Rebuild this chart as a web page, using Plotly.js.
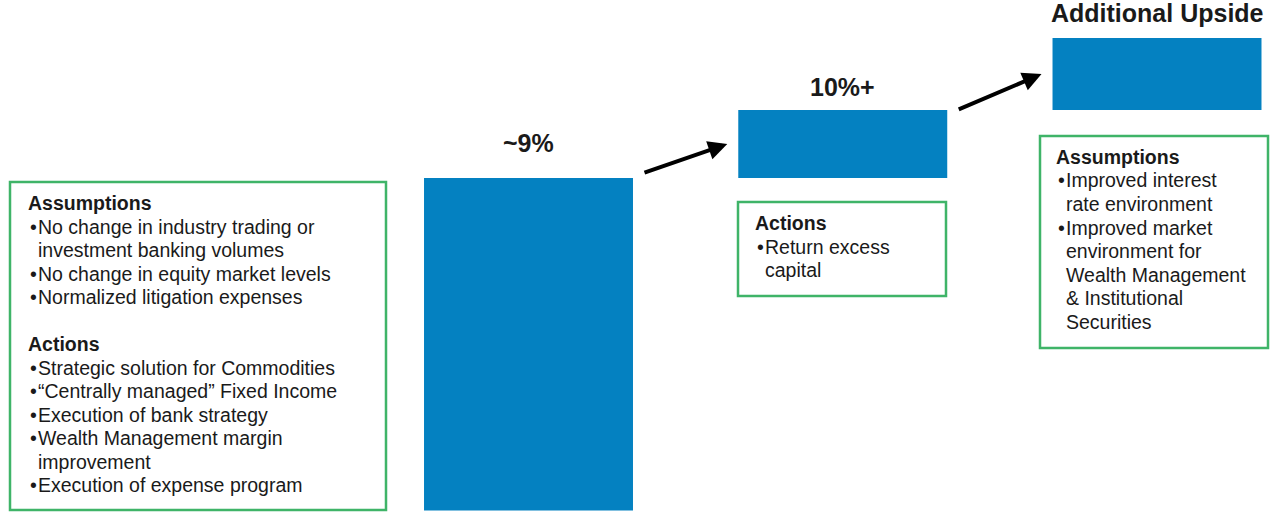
<!DOCTYPE html>
<html>
<head>
<meta charset="utf-8">
<script src="https://cdn.plot.ly/plotly-3.0.1.min.js"></script>
<style>html,body{margin:0;padding:0;background:#fff;}#chart{width:1274px;height:519px;}</style>
</head>
<body>
<div id="chart"></div>
<script>
// ---- data ----
const categories = ['~9%', '10%+', 'Additional Upside'];
const barBase = [0, 9, 10.84];
const barValue = [9, 1.84, 1.95];
const barLabels = ['~9%', '10%+', 'Additional Upside'];

// text box contents: h: = header, b: = bullet item, c: = continuation, '' = blank line
const box1Lines = [
  'h:Assumptions',
  'b:No change in industry trading or',
  'c:investment banking volumes',
  'b:No change in equity market levels',
  'b:Normalized litigation expenses',
  '',
  'h:Actions',
  'b:Strategic solution for Commodities',
  'b:\u201cCentrally managed\u201d Fixed Income',
  'b:Execution of bank strategy',
  'b:Wealth Management margin',
  'c:improvement',
  'b:Execution of expense program'
];
const box2Lines = [
  'h:Actions',
  'b:Return excess',
  'c:capital'
];
const box3Lines = [
  'h:Assumptions',
  'b:Improved interest',
  'c:rate environment',
  'b:Improved market',
  'c:environment for',
  'c:Wealth Management',
  'c:& Institutional',
  'c:Securities'
];

// ---- layout / style ----
const W = 1274, H = 519;
const BLUE = '#0481c1';
const GREEN = '#3fb468';
const TEXT = '#1a1a1a';
const FONT = 'Liberation Sans, Arial, sans-serif';
const barWidth = 0.665;
const xRange = [-1.6818, 2.3723];
const yRange = [-0.23, 13.82];
const labelShift = [19, 7, 9];
const pxPerX = W / (xRange[1] - xRange[0]);
const pxPerY = H / (yRange[1] - yRange[0]);

// boxes in pixels
const boxes = [
  {rect: [10, 182, 386, 510], left: 26, top: 203, lines: box1Lines},
  {rect: [738, 202, 946, 296], left: 753, top: 223, lines: box2Lines},
  {rect: [1040, 136, 1268, 348], left: 1054, top: 157, lines: box3Lines}
];
const lineStep = 23.5;
const fontSize = 19.5;

const px = v => v / W;
const py = v => 1 - v / H;

const shapes = [];
const annotations = [];

boxes.forEach(b => {
  shapes.push({type: 'rect', xref: 'paper', yref: 'paper',
    x0: px(b.rect[0]), x1: px(b.rect[2]), y0: py(b.rect[3]), y1: py(b.rect[1]),
    line: {color: GREEN, width: 2.5}, fillcolor: 'rgba(0,0,0,0)'});
  b.lines.forEach((ln, i) => {
    if (!ln) return;
    const kind = ln.slice(0, 1), txt = ln.slice(2);
    const yy = py(b.top + i * lineStep);
    const base = {xref: 'paper', yref: 'paper', y: yy, yanchor: 'middle', xanchor: 'left',
      showarrow: false, font: {family: FONT, size: fontSize, color: TEXT}};
    if (kind === 'h') {
      annotations.push(Object.assign({}, base, {x: px(b.left), text: '<b>' + txt + '</b>'}));
    } else {
      if (kind === 'b') {
        annotations.push(Object.assign({}, base, {x: px(b.left + 1.5), text: '\u2022'}));
      }
      annotations.push(Object.assign({}, base, {x: px(b.left + 10), text: txt}));
    }
  });
});

// bar value labels
categories.forEach((c, i) => {
  annotations.push({x: i, y: barBase[i] + barValue[i], xref: 'x', yref: 'y',
    text: '<b>' + barLabels[i] + '</b>', showarrow: false, yanchor: 'bottom', xanchor: 'center',
    yshift: labelShift[i], font: {family: FONT, size: 25, color: TEXT}});
});

// arrows between bars, derived from bar geometry
for (let i = 0; i < categories.length - 1; i++) {
  const tailX = i + barWidth / 2 + 10 / pxPerX;
  const tailY = barBase[i] + barValue[i] + (i === 0 ? 5 / pxPerY : 0);
  const tipX = (i + 1) - barWidth / 2 - 11 / pxPerX;
  const tipY = barBase[i + 1] + barValue[i + 1] / 2;
  annotations.push({x: tipX, y: tipY, xref: 'x', yref: 'y', ax: tailX, ay: tailY,
    axref: 'x', ayref: 'y', text: '', showarrow: true, arrowhead: 2, arrowsize: 0.95,
    arrowwidth: 4, arrowcolor: '#000', standoff: 0, startstandoff: 0});
}

const trace = {
  type: 'bar',
  x: categories.map((c, i) => i),
  y: barValue,
  base: barBase,
  width: barWidth,
  marker: {color: BLUE, line: {width: 0}},
  hoverinfo: 'skip',
  text: categories,
  textposition: 'none'
};

const layout = {
  width: W, height: H,
  margin: {l: 0, r: 0, t: 0, b: 0, pad: 0},
  paper_bgcolor: '#fff', plot_bgcolor: '#fff',
  showlegend: false,
  xaxis: {range: xRange, visible: false, fixedrange: true},
  yaxis: {range: yRange, visible: false, fixedrange: true},
  shapes: shapes,
  annotations: annotations
};

Plotly.newPlot('chart', [trace], layout, {displayModeBar: false, staticPlot: true});
</script>
</body>
</html>
